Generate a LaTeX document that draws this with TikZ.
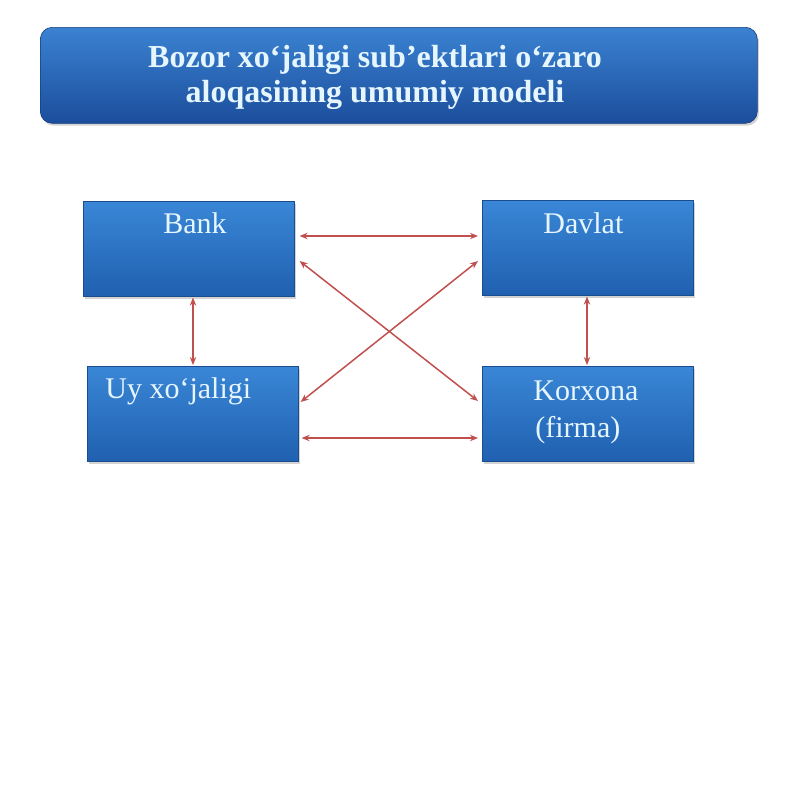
\documentclass[tikz,border=0pt]{standalone}
\usepackage{fontspec}
\setmainfont{Liberation Serif}
\usetikzlibrary{arrows.meta,calc,shadows}
\definecolor{boxtop}{HTML}{3A86D6}
\definecolor{boxbot}{HTML}{2060B0}
\definecolor{titletop}{HTML}{3B82D2}
\definecolor{titlebot}{HTML}{1B4E9C}
\definecolor{txtcol}{HTML}{E6F6FF}
\definecolor{arrowred}{HTML}{C0504D}
\tikzset{
  entity/.style={rectangle, anchor=north west, inner sep=0pt,
    minimum width=105.5pt, minimum height=47.5pt,
    top color=boxtop, bottom color=boxbot, draw=boxbot!80!black, line width=0.3pt,
    drop shadow={shadow xshift=0.8pt, shadow yshift=-1.2pt, opacity=0.35}},
  boxtext/.style={text=txtcol, font=\fontsize{15}{18.5}\selectfont, anchor=base west, inner sep=0pt},
  link/.style={draw=arrowred, line width=0.75pt, {Stealth[length=4pt,width=3.2pt]}-{Stealth[length=4pt,width=3.2pt]}},
}
\begin{document}
\begin{tikzpicture}[x=0.5pt,y=-0.5pt]
\useasboundingbox (0,0) rectangle (800,800);
% title
\node[anchor=north west, inner sep=0pt, minimum width=358.5pt, minimum height=48pt,
  rounded corners=6pt, top color=titletop, bottom color=titlebot, draw=titlebot!80!black, line width=0.3pt,
  drop shadow={shadow xshift=0.8pt, shadow yshift=-1.2pt, opacity=0.35}] (title) at (40,27) {};
\node[text=txtcol, font=\bfseries\fontsize{16}{17.5}\selectfont, align=center] (titletext) at (375,77)
  {Bozor xo‘jaligi sub’ektlari o‘zaro\\ aloqasining umumiy modeli};
% boxes
\node[entity] (bank) at (83,201) {};
\node[boxtext] (bankt) at ($(bank.north west)+(80,32)$) {Bank};
\node[entity] (davlat) at (482,200) {};
\node[boxtext] (davlatt) at ($(davlat.north west)+(61,33)$) {Davlat};
\node[entity] (uy) at (87,366) {};
\node[boxtext] (uyt) at ($(uy.north west)+(18,32)$) {Uy xo‘jaligi};
\node[entity] (korx) at (482,366) {};
\node[boxtext] (korxt1) at ($(korx.north west)+(51,34)$) {Korxona};
\node[boxtext] (korxt2) at ($(korx.north west)+(53,71)$) {(firma)};
% connectors
\draw[link] ($(bank.north east)+(5,35)$) -- ($(davlat.north west)+(-4,36)$);
\draw[link] ($(bank.north east)+(5,60)$) -- ($(korx.north west)+(-4,35)$);
\draw[link] ($(uy.north east)+(2,36)$) -- ($(davlat.north west)+(-4,61)$);
\draw[link] ($(uy.north east)+(3,72)$) -- ($(korx.north west)+(-4,72)$);
\draw[link] ($(bank.south west)+(110,1)$) -- ($(uy.north west)+(106,-1)$);
\draw[link] ($(davlat.south west)+(105,1)$) -- ($(korx.north west)+(105,-1)$);
\end{tikzpicture}
\end{document}
